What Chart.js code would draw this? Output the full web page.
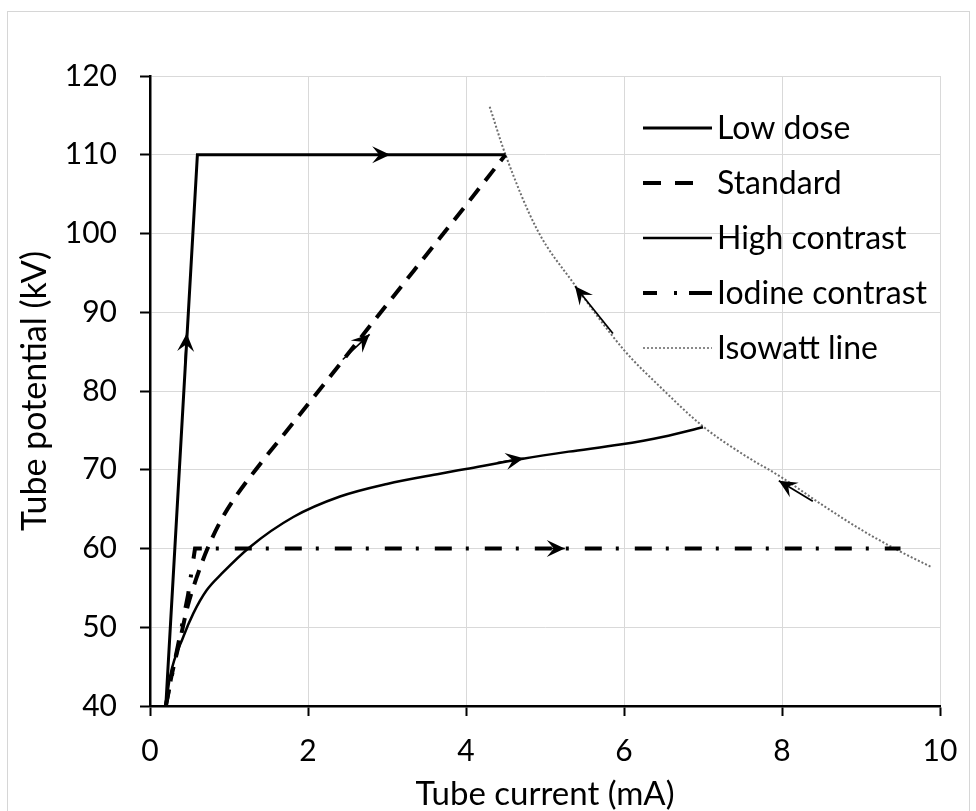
<!DOCTYPE html>
<html><head><meta charset="utf-8">
<script src="https://cdn.jsdelivr.net/npm/chart.js@4.4.1/dist/chart.umd.min.js"></script>
<style>
html,body{margin:0;padding:0;background:#fff;}
#wrap{position:relative;width:976px;height:811px;overflow:hidden;}
#frame{position:absolute;left:7px;top:11px;width:963px;height:820px;border:1px solid #d6d6d6;box-sizing:border-box;}
canvas{position:absolute;left:0;top:0;}
</style></head><body>
<div id="wrap"><div id="frame"></div><canvas id="c" width="976" height="811"></canvas></div>
<script>
// ---- data ----
const seriesNames = ['Low dose', 'Standard', 'High contrast', 'Iodine contrast', 'Isowatt line'];

const lowDoseX = [0.2, 0.6, 4.5];
const lowDoseY = [40, 110, 110];

const standardX = [0.2, 0.27, 0.38, 0.48, 0.6, 0.72, 0.9, 1.1, 1.4, 1.8, 2.3, 3.0, 3.5, 4.0, 4.5];
const standardY = [40, 43.7, 48.4, 52.8, 56.6, 59.8, 63.6, 66.8, 70.8, 75.8, 82.1, 91, 97.3, 103.6, 110];

const highContrastX = [0.2, 0.253, 0.422, 0.55, 0.717, 0.907, 1.266, 1.814, 2.405, 3.0, 3.67, 4.0, 4.72, 5.3, 5.95, 6.5, 7.0];
const highContrastY = [40, 43.7, 48.8, 51.8, 54.7, 56.8, 60.2, 64.0, 66.6, 68.2, 69.5, 70.1, 71.4, 72.3, 73.2, 74.2, 75.4];

const iodineX = [0.2, 0.3, 0.38, 0.48, 0.57, 9.5];
const iodineY = [40, 45, 49, 54, 60, 60];

const isowattX = [4.3, 4.5, 4.9, 5.36, 6.0, 6.46, 7.0, 7.5, 8.0, 8.5, 9.0, 9.5, 9.9];
const isowattY = [116.1, 110, 100.5, 93.7, 85.2, 80.5, 75.5, 72, 69, 65.6, 62.4, 59.6, 57.6];

// direction arrows (tail -> head), in data units
const arrowTailX = [0.44, 2.53, 2.44, 4.40, 4.90, 5.86, 8.39];
const arrowTailY = [83.0, 110, 84.0, 70.9, 60, 87.3, 66.0];
const arrowHeadX = [0.465, 3.04, 2.78, 4.73, 5.25, 5.38, 7.96];
const arrowHeadY = [87.3, 110, 87.2, 71.45, 60, 93.3, 68.6];

const xTickStep = 2, xMin = 0, xMax = 10;
const yTickStep = 10, yMin = 40, yMax = 120;

const xTitle = 'Tube current (mA)';
const yTitle = 'Tube potential (kV)';

// ---- build ----
const pts = (xs, ys) => xs.map((x, i) => ({x, y: ys[i]}));
const FONT = 'Lato, "Open Sans", "DejaVu Sans", sans-serif';

const datasets = [
  {label: seriesNames[0], data: pts(lowDoseX, lowDoseY), borderColor: '#000', borderWidth: 3, tension: 0,
   legendDash: [], legendW: 3},
  {label: seriesNames[1], data: pts(standardX, standardY), borderColor: '#000', borderWidth: 4, borderDash: [15, 10],
   cubicInterpolationMode: 'monotone', legendDash: [18, 14, 18, 200], legendW: 4},
  {label: seriesNames[2], data: pts(highContrastX, highContrastY), borderColor: '#000', borderWidth: 2.5,
   cubicInterpolationMode: 'monotone', legendDash: [], legendW: 2.5},
  {label: seriesNames[3], data: pts(iodineX, iodineY), borderColor: '#000', borderWidth: 4, borderDash: [17, 14, 3, 16],
   tension: 0, legendDash: [14, 17, 3, 12, 40], legendW: 4},
  {label: seriesNames[4], data: pts(isowattX, isowattY), borderColor: '#6e6e6e', borderWidth: 2, borderDash: [2, 2],
   cubicInterpolationMode: 'monotone', legendDash: [2, 2], legendW: 1.6},
];

const arrowPlugin = {
  id: 'arrows',
  afterDatasetsDraw(chart) {
    const xs = chart.scales.x, ys = chart.scales.y, ctx = chart.ctx;
    for (let i = 0; i < arrowHeadX.length; i++) {
      const hx = xs.getPixelForValue(arrowHeadX[i]), hy = ys.getPixelForValue(arrowHeadY[i]);
      const tx = xs.getPixelForValue(arrowTailX[i]), ty = ys.getPixelForValue(arrowTailY[i]);
      const ang = Math.atan2(hy - ty, hx - tx);
      ctx.save();
      ctx.strokeStyle = '#000';
      ctx.fillStyle = '#000';
      ctx.lineWidth = 1.7;
      ctx.setLineDash([]);
      ctx.beginPath(); ctx.moveTo(tx, ty); ctx.lineTo(hx, hy); ctx.stroke();
      ctx.translate(hx, hy); ctx.rotate(ang);
      ctx.beginPath();
      ctx.moveTo(0, 0);
      ctx.lineTo(-18, -8.5);
      ctx.lineTo(-11, 0);
      ctx.lineTo(-18, 8.5);
      ctx.closePath();
      ctx.fill();
      ctx.restore();
    }
  }
};

const legendPlugin = {
  id: 'insideLegend',
  afterDraw(chart, args, opts) {
    const ctx = chart.ctx;
    chart.data.datasets.forEach((ds, i) => {
      const y = opts.top + i * opts.rowGap;
      ctx.save();
      ctx.strokeStyle = ds.borderColor;
      ctx.lineWidth = ds.legendW;
      ctx.setLineDash(ds.legendDash);
      ctx.beginPath(); ctx.moveTo(opts.x0, y); ctx.lineTo(opts.x1, y); ctx.stroke();
      ctx.setLineDash([]);
      ctx.fillStyle = '#000';
      ctx.font = opts.font;
      ctx.textBaseline = 'middle';
      ctx.textAlign = 'left';
      ctx.fillText(ds.label, opts.textX, y + 1);
      ctx.restore();
    });
  }
};

new Chart(document.getElementById('c'), {
  type: 'line',
  data: {datasets},
  options: {
    responsive: false,
    animation: false,
    layout: {padding: {left: 0, right: 36, top: 76, bottom: 0}},
    elements: {point: {radius: 0}, line: {borderCapStyle: 'butt'}},
    plugins: {
      legend: {display: false},
      tooltip: {enabled: false},
      insideLegend: {x0: 643, x1: 712, textX: 717, top: 128, rowGap: 55, font: '32px ' + FONT}
    },
    scales: {
      x: {
        type: 'linear', min: xMin, max: xMax,
        ticks: {stepSize: xTickStep, color: '#000', font: {family: FONT, size: 30}, padding: 17, maxRotation: 0},
        grid: {color: '#d9d9d9', lineWidth: 1, tickColor: '#000', tickLength: 10, tickWidth: 2},
        border: {color: '#000', width: 2.5},
        title: {display: true, text: xTitle, color: '#000', font: {family: FONT, size: 33, lineHeight: 1}, padding: {top: 0, bottom: 0}},
        afterFit(s) { s.height = 105; }
      },
      y: {
        type: 'linear', min: yMin, max: yMax,
        ticks: {stepSize: yTickStep, color: '#000', font: {family: FONT, size: 30}, padding: 23},
        grid: {color: '#d9d9d9', lineWidth: 1, tickColor: '#000', tickLength: 10, tickWidth: 2},
        border: {color: '#000', width: 2.5},
        title: {display: true, text: yTitle, color: '#000', font: {family: FONT, size: 34, lineHeight: 1}, padding: {top: 18, bottom: 0}},
        afterFit(s) { s.width = 150; }
      }
    }
  },
  plugins: [arrowPlugin, legendPlugin]
});
</script>
</body></html>
